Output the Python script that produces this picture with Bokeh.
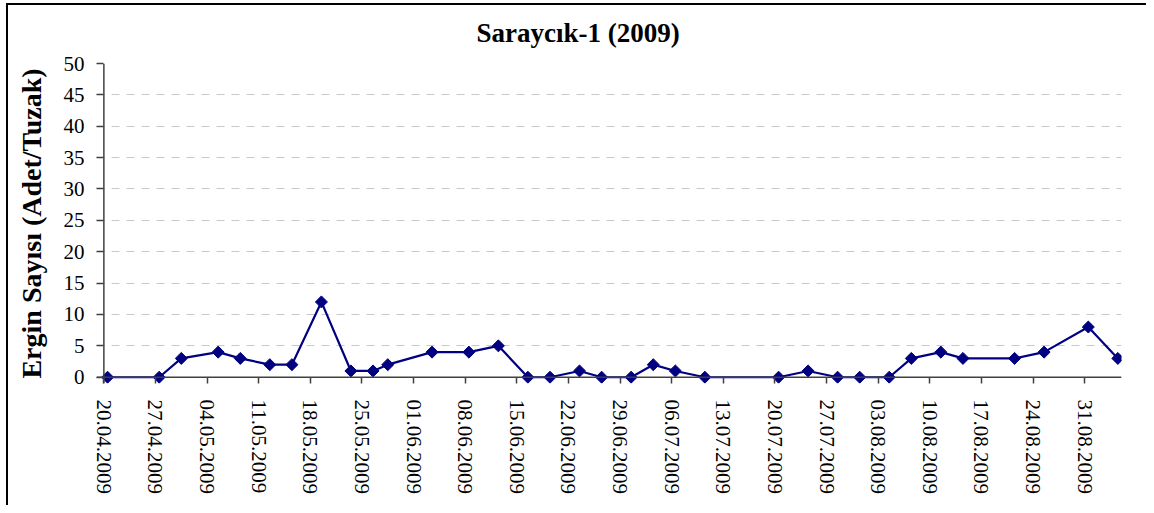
import pandas as pd
from bokeh.plotting import figure
from bokeh.models import (ColumnDataSource, FixedTicker, Range1d, InlineStyleSheet, Span)
from bokeh.embed import file_html
from bokeh.resources import INLINE

title_text = "Saraycık-1 (2009)"
y_label = "Ergin Sayısı (Adet/Tuzak)"

dates = ["20.04.2009", "27.04.2009", "30.04.2009", "05.05.2009", "08.05.2009",
         "12.05.2009", "15.05.2009", "19.05.2009", "23.05.2009", "26.05.2009",
         "28.05.2009", "03.06.2009", "08.06.2009", "12.06.2009", "16.06.2009",
         "19.06.2009", "23.06.2009", "26.06.2009", "30.06.2009", "03.07.2009",
         "06.07.2009", "10.07.2009", "20.07.2009", "24.07.2009", "28.07.2009",
         "31.07.2009", "04.08.2009", "07.08.2009", "11.08.2009", "14.08.2009",
         "21.08.2009", "25.08.2009", "31.08.2009", "04.09.2009"]
counts = [0, 0, 3, 4, 3, 2, 2, 12, 1, 1, 2, 4, 4, 5, 0, 0, 1, 0, 0, 2,
          1, 0, 0, 1, 0, 0, 0, 3, 4, 3, 3, 4, 8, 3]

tick_labels = ["20.04.2009", "27.04.2009", "04.05.2009", "11.05.2009", "18.05.2009",
               "25.05.2009", "01.06.2009", "08.06.2009", "15.06.2009", "22.06.2009",
               "29.06.2009", "06.07.2009", "13.07.2009", "20.07.2009", "27.07.2009",
               "03.08.2009", "10.08.2009", "17.08.2009", "24.08.2009", "31.08.2009"]
axis_start = "20.04.2009"
axis_end = "05.09.2009"
y_ticks = [0, 5, 10, 15, 20, 25, 30, 35, 40, 45, 50]
y_max = 50

t0 = pd.to_datetime(axis_start, format="%d.%m.%Y")
def day(s):
    return (pd.to_datetime(s, format="%d.%m.%Y") - t0).days

xs = [day(d) + 0.5 for d in dates]
tick_pos = [day(t) for t in tick_labels]
x_end = day(axis_end)

src = ColumnDataSource(dict(x=xs, y=counts))

# ranges padded a little so the diamond markers at the axes are not clipped;
# the padding equals the tick-mark length, so inward ticks read as outward ones
p = figure(width=1146, height=505, output_backend="svg", toolbar_location=None,
           x_range=Range1d(-1, x_end), y_range=Range1d(-1, y_max),
           min_border_left=96, min_border_right=25, min_border_top=61,
           min_border_bottom=122)

FONT = "Liberation Serif"
AX = "#404040"

p.title.text = title_text
p.title.text_font = FONT
p.title.text_font_size = "27px"
p.title.text_font_style = "bold"
p.title.text_color = "black"
p.title.text_line_height = 0.8
p.title.align = "left"
p.title.offset = 380
p.title.standoff = 31

p.outline_line_color = None
p.background_fill_color = "white"
p.border_fill_color = "white"

p.xgrid.visible = False
p.ygrid.grid_line_color = "#c8c8c8"
p.ygrid.grid_line_dash = "8 7"
p.ygrid.grid_line_width = 1

p.yaxis.ticker = FixedTicker(ticks=y_ticks)
p.yaxis.axis_line_color = None
p.yaxis.major_tick_in = 7
p.yaxis.major_tick_out = 0
p.yaxis.minor_tick_line_color = None
p.yaxis.major_label_standoff = 12
p.yaxis.axis_label = y_label
p.yaxis.axis_label_text_font = FONT
p.yaxis.axis_label_text_font_size = "28px"
p.yaxis.axis_label_text_font_style = "bold"
p.yaxis.axis_label_text_color = "black"
p.yaxis.axis_label_standoff = 14

p.xaxis.ticker = FixedTicker(ticks=tick_pos)
p.xaxis.major_label_overrides = {tp: lbl for tp, lbl in zip(tick_pos, tick_labels)}
p.xaxis.major_label_orientation = "vertical"
p.xaxis.axis_line_color = None
p.xaxis.major_tick_in = 6
p.xaxis.major_tick_out = 0
p.xaxis.minor_tick_line_color = None
p.xaxis.major_label_standoff = 16

for ax in (p.xaxis, p.yaxis):
    ax.major_tick_line_color = AX
    ax.major_tick_line_width = 1.5
    ax.major_label_text_font = FONT
    ax.major_label_text_font_size = "21px"
    ax.major_label_text_color = "black"

# axis lines at the data zero lines
p.add_layout(Span(location=0, dimension="width", line_color=AX, line_width=1.5))
p.add_layout(Span(location=0, dimension="height", line_color=AX, line_width=1.5))

p.line("x", "y", source=src, line_color="#000080", line_width=2.2)
p.scatter("x", "y", source=src, marker="square", size=8.5, angle=0.785398,
          fill_color="#000080", line_color="#000080")

# outer chart-area border (left and top edges visible in the reference)
p.stylesheets = [InlineStyleSheet(css=(
    ":host { position: relative; }"
    ":host::after { content: ''; position: absolute; left: 6px; top: 3px;"
    " right: 0px; bottom: 0px; border-left: 2px solid #000;"
    " border-top: 2px solid #000; pointer-events: none; z-index: 10; }"
))]

open("out.html", "w").write(file_html(p, INLINE))
